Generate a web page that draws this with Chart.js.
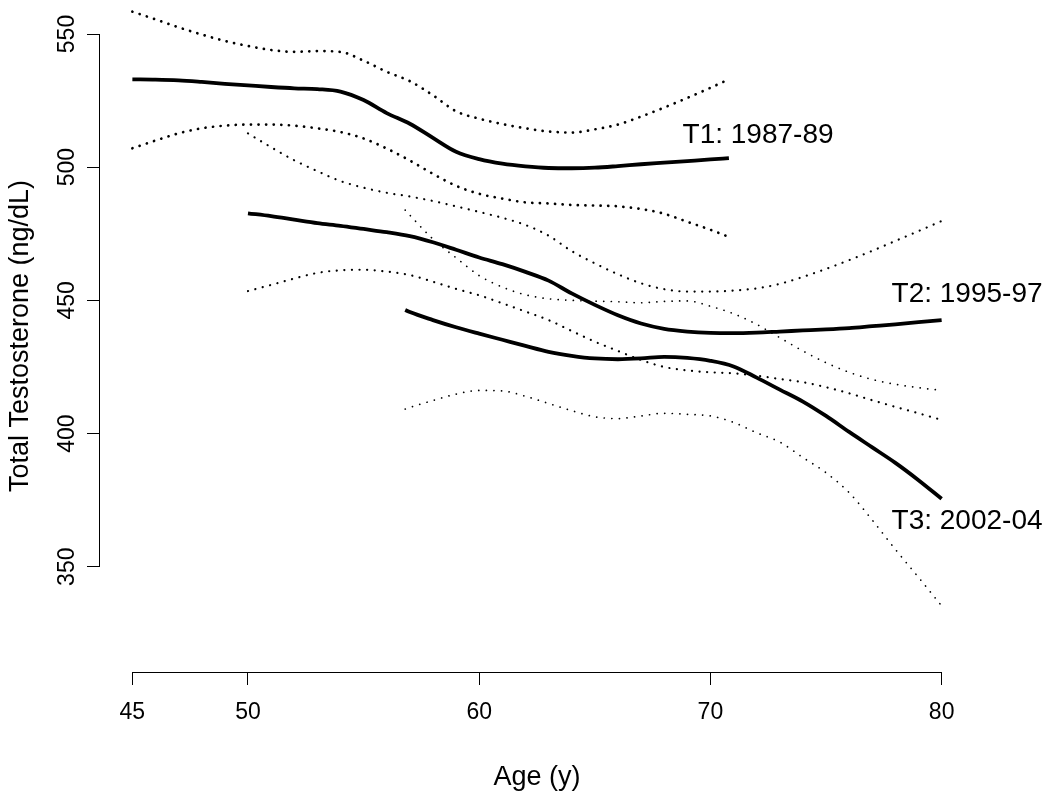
<!DOCTYPE html>
<html>
<head>
<meta charset="utf-8">
<script src="https://cdn.jsdelivr.net/npm/chart.js@4.4.1/dist/chart.umd.min.js"></script>
<style>
html,body{margin:0;padding:0;background:#fff;}
#wrap{width:1050px;height:795px;position:relative;}
canvas{display:block;}
</style>
</head>
<body>
<div id="wrap"><canvas id="c" width="1050" height="795"></canvas></div>
<script>
// ---------- data ----------
const xTicks = [45, 50, 60, 70, 80];
const yTicks = [350, 400, 450, 500, 550];

const t1Age   = [45,46,47,48,49,50,51,52,53,54,55,56,57,58,59,60,61,62,63,64,65,66,67,68,69,70,70.8];
const t1Mean  = [533.0,532.9,532.6,532.0,531.3,530.7,530.1,529.6,529.3,528.4,525.2,520.3,516.3,511.0,505.8,503.0,501.3,500.3,499.7,499.6,499.8,500.4,501.1,501.7,502.3,502.9,503.4];
const t1Upper = [558.4,555.5,552.5,549.8,547.4,545.5,544.0,543.3,543.6,543.3,540.0,535.8,532.3,527.0,521.0,518.2,516.2,514.6,513.4,513.0,514.2,516.0,519.0,522.4,526.0,529.8,533.0];
const t1Lower = [507.1,510.0,512.7,514.6,515.6,516.0,516.0,515.6,514.6,513.2,510.8,507.0,502.5,497.5,493.0,490.0,488.2,486.8,486.4,485.8,485.6,485.3,484.3,482.5,479.5,476.5,473.8];

const t2Age   = [50,51,52,53,54,55,56,57,58,59,60,61,62,63,64,65,66,67,68,69,70,71,72,73,74,75,76,77,78,79,80];
const t2Mean  = [482.7,481.6,480.3,479.0,478.0,476.8,475.6,474.1,471.8,469.0,466.1,463.6,460.7,457.4,452.6,448.3,444.4,441.3,439.3,438.3,437.8,437.7,437.9,438.3,438.7,439.1,439.6,440.3,441.0,441.8,442.6];
const t2Upper = [512.7,507.5,502.6,498.5,494.8,492.3,490.4,489.0,487.3,485.3,483.2,481.0,478.3,474.3,468.5,463.9,459.8,456.4,454.2,453.3,453.3,453.7,454.5,456.2,458.8,461.8,465.1,468.6,472.3,476.0,479.8];
const t2Lower = [453.5,455.8,458.2,460.3,461.3,461.5,460.8,459.5,457.0,454.3,451.9,448.9,445.8,442.6,438.5,434.5,431.0,427.6,425.0,423.7,423.0,422.6,421.7,420.5,419.3,417.4,415.1,412.5,410.0,407.6,405.1];

const t3Age   = [56.8,57,58,59,60,61,62,63,64,65,66,67,68,69,70,71,72,73,74,75,76,77,78,79,80];
const t3Mean  = [446.4,445.6,442.6,439.9,437.5,435.2,432.9,430.7,429.2,428.2,427.9,428.2,428.8,428.4,427.3,425.2,421.0,416.5,412.0,406.6,400.6,394.8,389.0,382.5,375.5];
const t3Upper = [483.9,482.0,473.0,466.0,459.3,455.0,452.1,450.6,450.0,449.7,449.5,449.1,449.6,449.8,447.8,445.0,441.0,436.0,431.0,426.6,423.0,420.3,418.5,417.2,416.2];
const t3Lower = [409.2,409.8,412.4,414.8,416.2,416.0,414.0,411.3,408.6,406.3,405.6,406.6,407.6,407.2,406.6,404.2,400.3,396.8,391.0,385.3,377.8,367.5,356.5,346.0,335.3];

const seriesLabels = ['T1: 1987-89', 'T2: 1995-97', 'T3: 2002-04'];
const labelAge     = [72.06, 81.1, 81.1];
const labelValue   = [509.2, 449.5, 364.0];

// ---------- helpers ----------
const FAMILY = '"Liberation Sans", Arial, Helvetica, sans-serif';
const pts = (xs, ys) => xs.map((x, i) => ({x: x, y: ys[i]}));

function solid(xs, ys) {
  return {data: pts(xs, ys), borderColor: '#000', borderWidth: 3.8, pointRadius: 0,
          cubicInterpolationMode: 'monotone', fill: false, borderCapStyle: 'butt'};
}
function dotted(xs, ys, w) {
  return {data: pts(xs, ys), borderColor: '#000', borderWidth: w, pointRadius: 0,
          cubicInterpolationMode: 'monotone', fill: false,
          borderDash: [0.1, 7.5], borderCapStyle: 'round'};
}

const datasets = [
  dotted(t1Age, t1Upper, 2.7), dotted(t1Age, t1Lower, 2.7),
  dotted(t2Age, t2Upper, 2.2), dotted(t2Age, t2Lower, 2.2),
  dotted(t3Age, t3Upper, 1.7), dotted(t3Age, t3Lower, 1.7),
  solid(t1Age, t1Mean), solid(t2Age, t2Mean), solid(t3Age, t3Mean)
];

const al = p => Math.round(p - 0.5) + 0.5;

const axisLines = {
  id: 'axisLines',
  afterDraw(chart) {
    const {ctx, chartArea} = chart;
    const xs = chart.scales.x, ys = chart.scales.y;
    ctx.save();
    ctx.strokeStyle = '#000';
    ctx.lineWidth = 1;
    ctx.beginPath();
    const ax = Math.round(chartArea.left) - 0.5;
    ctx.moveTo(ax, al(ys.getPixelForValue(yTicks[yTicks.length - 1])));
    ctx.lineTo(ax, al(ys.getPixelForValue(yTicks[0])));
    const ay = Math.round(chartArea.bottom) + 0.5;
    ctx.moveTo(al(xs.getPixelForValue(xTicks[0])), ay);
    ctx.lineTo(al(xs.getPixelForValue(xTicks[xTicks.length - 1])), ay);
    ctx.stroke();
    ctx.restore();
  }
};

const seriesText = {
  id: 'seriesText',
  afterDatasetsDraw(chart) {
    const {ctx} = chart;
    const xs = chart.scales.x, ys = chart.scales.y;
    ctx.save();
    ctx.fillStyle = '#000';
    ctx.font = '28px ' + FAMILY;
    ctx.textAlign = 'center';
    ctx.textBaseline = 'alphabetic';
    seriesLabels.forEach((t, i) => {
      ctx.fillText(t, xs.getPixelForValue(labelAge[i]), ys.getPixelForValue(labelValue[i]));
    });
    ctx.restore();
  }
};

new Chart(document.getElementById('c').getContext('2d'), {
  type: 'line',
  data: {datasets: datasets},
  options: {
    responsive: false,
    animation: false,
    events: [],
    layout: {padding: {top: 0, right: 76, left: 0, bottom: 0}},
    plugins: {legend: {display: false}, tooltip: {enabled: false}},
    scales: {
      x: {
        type: 'linear', position: 'bottom', min: 43.6, max: 81.4,
        afterBuildTicks: s => { s.ticks = xTicks.map(v => ({value: v})); },
        afterFit: s => { s.height = 123; s.paddingLeft = 0; s.paddingRight = 0; },
        grid: {drawOnChartArea: false, drawTicks: true, tickLength: 13, color: '#000', lineWidth: 1},
        border: {display: false},
        ticks: {font: {size: 23, family: FAMILY}, color: '#000', padding: 14,
                maxRotation: 0, minRotation: 0, autoSkip: false},
        title: {display: true, text: 'Age (y)', color: '#000',
                font: {size: 27, family: FAMILY}, padding: {top: 0, bottom: 1}}
      },
      y: {
        type: 'linear', position: 'left', min: 310.47, max: 562.77,
        afterBuildTicks: s => { s.ticks = yTicks.map(v => ({value: v})); },
        afterFit: s => { s.width = 100; s.paddingTop = 0; s.paddingBottom = 0; },
        grid: {drawOnChartArea: false, drawTicks: true, tickLength: 13, color: '#000', lineWidth: 1},
        border: {display: false},
        ticks: {font: {size: 23, family: FAMILY}, color: '#000', padding: 0,
                minRotation: 90, maxRotation: 90, crossAlign: 'center', autoSkip: false},
        title: {display: true, text: 'Total Testosterone (ng/dL)', color: '#000',
                font: {size: 27, family: FAMILY}, padding: {top: 4, bottom: 0}}
      }
    }
  },
  plugins: [axisLines, seriesText]
});
</script>
</body>
</html>
